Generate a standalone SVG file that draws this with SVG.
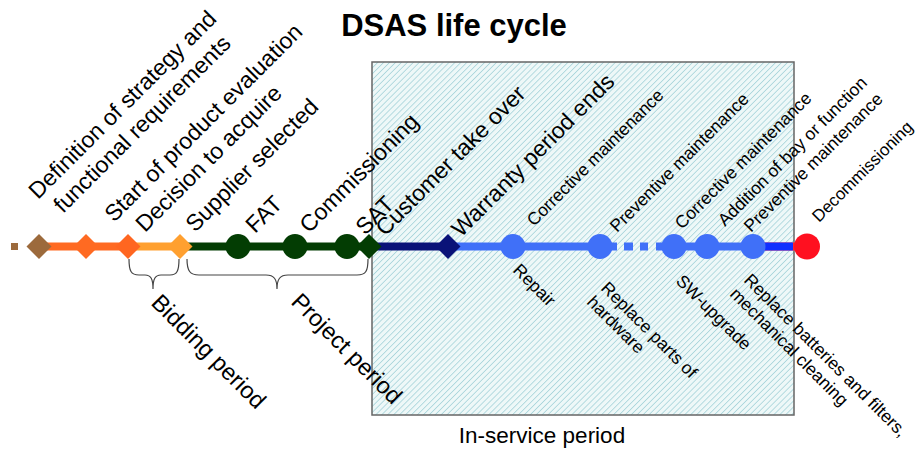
<svg xmlns="http://www.w3.org/2000/svg" width="917" height="450" viewBox="0 0 917 450">
  <defs>
    <pattern id="hatch" width="4.2" height="4.2" patternUnits="userSpaceOnUse" patternTransform="rotate(45)">
      <rect width="4.2" height="4.2" fill="#eef8f8"/>
      <line x1="0" y1="0" x2="0" y2="4.2" stroke="#abd6dc" stroke-width="1.7"/>
    </pattern>
  </defs>
  <style>
    text { font-family: "Liberation Sans", Arial, Helvetica, sans-serif; fill: #000; }
    .big { font-size: 23px; }
    .small { font-size: 17.5px; }
    .edge { font-size: 17px; }
    .period { font-size: 23.5px; }
    .service { font-size: 22.5px; }
    .title { font-size: 31px; font-weight: bold; }
    .seg { fill: none; stroke-width: 8; }
    .brace { fill: none; stroke: #444; stroke-width: 1.2; }
  </style>

  <rect fill="#fff" width="917" height="450"/>

  <!-- In-service period area -->
  <g id="in-service-area">
    <rect x="372" y="62" width="422" height="353" fill="url(#hatch)" stroke="#666" stroke-width="1.5"/>
    <text class="service" x="542" y="443" text-anchor="middle">In-service period</text>
  </g>

  <text class="title" x="454" y="36" text-anchor="middle">DSAS life cycle</text>

  <!-- timeline segments -->
  <g id="connectors">
    <rect x="11" y="243" width="7" height="7" fill="#9c6a3c"/>
    <line class="seg" x1="39" y1="246.5" x2="128" y2="246.5" stroke="#ff6a22"/>
    <line class="seg" x1="128" y1="246.5" x2="180" y2="246.5" stroke="#ffa030"/>
    <line class="seg" x1="180" y1="246.5" x2="369" y2="246.5" stroke="#033d03"/>
    <line class="seg" x1="369" y1="246.5" x2="448" y2="246.5" stroke="#0a1278"/>
    <line class="seg" x1="448" y1="246.5" x2="617" y2="246.5" stroke="#4070f8" stroke-width="7"/>
    <line class="seg" x1="624" y1="246.5" x2="633" y2="246.5" stroke="#4070f8" stroke-width="7"/>
    <line class="seg" x1="640" y1="246.5" x2="648" y2="246.5" stroke="#4070f8" stroke-width="7"/>
    <line class="seg" x1="656" y1="246.5" x2="753" y2="246.5" stroke="#4070f8" stroke-width="7"/>
    <line class="seg" x1="753" y1="246.5" x2="807" y2="246.5" stroke="#ff2030" stroke-width="8"/>
    <line class="seg" x1="747" y1="246.5" x2="793" y2="246.5" stroke="#1030ff" stroke-width="5"/>

    <!-- period braces -->
    <path class="brace" d="M129,259 C129,271 131,275 139,275 L145,275 C151,275 153,279 153,289 C153,279 155,275 161,275 L170,275 C177,275 179,271 179,259"/>
    <path class="brace" d="M187,259 C187,271 190,275 199,275 L266,275 C274,275 277,279 277,289 C277,279 280,275 288,275 L357,275 C366,275 368,271 368,259"/>
  </g>

  <!-- milestones -->
  <g id="n-definition">
    <path d="M39,234 L51.5,246.5 L39,259 L26.5,246.5 Z" fill="#9c6a3c"/>
    <text class="big" transform="translate(38,200) rotate(-45)">Definition of strategy and</text>
    <text class="big" transform="translate(63,214) rotate(-45)">functional requirements</text>
  </g>
  <g id="n-evaluation">
    <path d="M86,234 L98.5,246.5 L86,259 L73.5,246.5 Z" fill="#ff6a22"/>
    <text class="big" transform="translate(114,223) rotate(-45)">Start of product evaluation</text>
  </g>
  <g id="n-decision">
    <path d="M128,234 L140.5,246.5 L128,259 L115.5,246.5 Z" fill="#ff6620"/>
    <text class="big" transform="translate(145,233) rotate(-45)">Decision to acquire</text>
  </g>
  <g id="n-supplier">
    <path d="M180,234 L192.5,246.5 L180,259 L167.5,246.5 Z" fill="#ffa030"/>
    <text class="big" transform="translate(195,233) rotate(-45)">Supplier selected</text>
  </g>
  <g id="n-fat">
    <circle cx="238" cy="246.5" r="12.5" fill="#033d03"/>
    <text class="big" transform="translate(255,234) rotate(-45)">FAT</text>
  </g>
  <g id="n-commissioning">
    <circle cx="295" cy="246.5" r="12.5" fill="#033d03"/>
    <text class="big" transform="translate(309,234) rotate(-45)">Commissioning</text>
  </g>
  <g id="n-sat">
    <circle cx="347" cy="246.5" r="12.5" fill="#033d03"/>
    <text class="big" transform="translate(365,236) rotate(-45)">SAT</text>
  </g>
  <g id="n-takeover">
    <path d="M369,234 L381.5,246.5 L369,259 L356.5,246.5 Z" fill="#033d03"/>
    <text class="big" transform="translate(385,237) rotate(-45)">Customer take over</text>
  </g>
  <g id="n-warranty">
    <path d="M448,234 L460.5,246.5 L448,259 L435.5,246.5 Z" fill="#0a1278"/>
    <text class="big" transform="translate(461,238) rotate(-45)">Warranty period ends</text>
  </g>
  <g id="n-corrective-1">
    <circle cx="513" cy="246.5" r="12.5" fill="#4070f8"/>
    <text class="small" transform="translate(534,227) rotate(-45)">Corrective maintenance</text>
    <text class="small" transform="translate(512,271) rotate(45)">Repair</text>
  </g>
  <g id="n-preventive-1">
    <circle cx="600" cy="246.5" r="12.5" fill="#4070f8"/>
    <text class="small" transform="translate(617,233) rotate(-45)">Preventive maintenance</text>
    <text class="small" transform="translate(600,289) rotate(45)">Replace parts of</text>
    <text class="small" transform="translate(586,303) rotate(45)">hardware</text>
  </g>
  <g id="n-corrective-2">
    <circle cx="674" cy="246.5" r="12.5" fill="#4070f8"/>
    <text class="small" transform="translate(682,230) rotate(-45)">Corrective maintenance</text>
    <text class="small" transform="translate(675,282) rotate(45)">SW-upgrade</text>
  </g>
  <g id="n-addition">
    <circle cx="707" cy="246.5" r="12.5" fill="#4070f8"/>
    <text class="small" transform="translate(725,227) rotate(-45)">Addition of bay or function</text>
  </g>
  <g id="n-preventive-2">
    <circle cx="753" cy="246.5" r="12.5" fill="#4070f8"/>
    <text class="small" transform="translate(751,233) rotate(-45)">Preventive maintenance</text>
    <text class="small" transform="translate(743,281) rotate(45)">Replace batteries and filters,</text>
    <text class="small" transform="translate(729,295) rotate(45)">mechanical cleaning</text>
  </g>
  <g id="n-decommissioning">
    <circle cx="807" cy="246.5" r="13" fill="#ff1020"/>
    <text class="edge" transform="translate(819,223) rotate(-45)">Decommissioning</text>
  </g>

  <!-- period labels -->
  <g id="n-bidding">
    <text class="period" transform="translate(150,304) rotate(45)">Bidding period</text>
  </g>
  <g id="n-project">
    <text class="period" transform="translate(290,303) rotate(45)">Project period</text>
  </g>
</svg>
